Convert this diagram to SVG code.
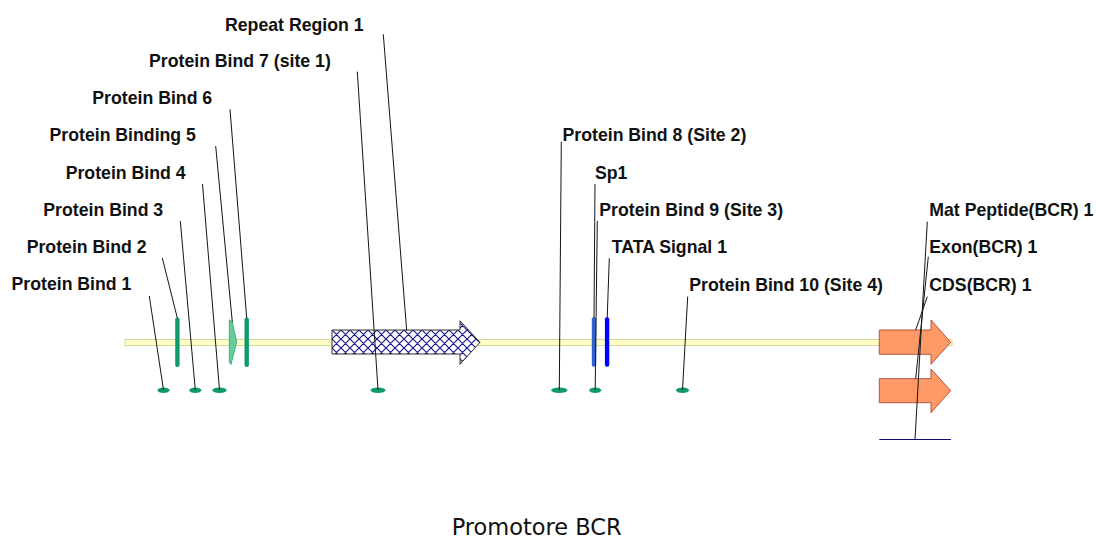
<svg xmlns="http://www.w3.org/2000/svg" width="1096" height="539" viewBox="0 0 1096 539">
  <style>
    .lbl { font-family: "Liberation Sans", Arial, sans-serif; font-weight: bold; font-size: 17.7px; fill: #111; }
    .title { font-family: "DejaVu Sans", Verdana, sans-serif; font-size: 23px; fill: #111; }
    .conn { stroke: #151515; stroke-width: 1; fill: none; }
    .site { fill: #0f9a6a; }
    .ptr { fill: #ff9966; stroke: #b5553f; stroke-width: 1; }
  </style>
  <defs>
    <pattern id="hatch" patternUnits="userSpaceOnUse" x="332" y="330" width="9" height="9">
      <rect width="9" height="9" fill="#ffffff"/>
      <path d="M0,0 L9,9 M9,0 L0,9 M-1,8 L1,10 M8,-1 L10,1 M-1,1 L1,-1 M8,10 L10,8" stroke="#1a1a8c" stroke-width="1.2"/>
    </pattern>
  </defs>
  <rect width="1096" height="539" fill="#ffffff"/>

  <!-- sequence backbone -->
  <g id="backbone">
    <rect x="125" y="339.5" width="827" height="6" fill="#ffffc8" stroke="#d4d49c" stroke-width="1"/>
  </g>

  <!-- features -->
  <g id="protein-bind-1"><ellipse class="site" cx="163.5" cy="390.3" rx="6" ry="2.8"/></g>
  <g id="protein-bind-2"><rect class="site" x="175.2" y="317.5" width="4.4" height="49.5" rx="2"/></g>
  <g id="protein-bind-3"><ellipse class="site" cx="195.3" cy="390.3" rx="6" ry="2.8"/></g>
  <g id="protein-bind-4"><ellipse class="site" cx="219.5" cy="390.3" rx="7.2" ry="2.8"/></g>
  <g id="protein-binding-5"><polygon points="229.3,320 232.3,322 236.7,342 231,364.5 229.3,362" fill="#66cc99" stroke="#2e9e70" stroke-width="0.8"/></g>
  <g id="protein-bind-6"><rect class="site" x="244.5" y="317.5" width="4.4" height="49.5" rx="2"/></g>
  <g id="protein-bind-7"><ellipse class="site" cx="378" cy="390.3" rx="7.5" ry="2.8"/></g>
  <g id="repeat-region-1">
    <polygon points="332,330 460,330 460,320.7 480,342.3 460,364.3 460,354 332,354" fill="url(#hatch)" stroke="#333333" stroke-width="1"/>
  </g>
  <g id="protein-bind-8"><ellipse class="site" cx="559.3" cy="390.3" rx="8.2" ry="2.8"/></g>
  <g id="sp1"><rect x="591.8" y="317.3" width="4.4" height="49.5" rx="2" fill="#3262cf"/></g>
  <g id="protein-bind-9"><ellipse class="site" cx="595.2" cy="390.3" rx="6" ry="2.8"/></g>
  <g id="tata-signal-1"><rect x="604.9" y="317.3" width="4.4" height="49.5" rx="2" fill="#0000ff"/></g>
  <g id="protein-bind-10"><ellipse class="site" cx="682.5" cy="390.3" rx="6.5" ry="2.8"/></g>
  <g id="mat-peptide-bcr-1"><line x1="879.3" y1="439.5" x2="951" y2="439.5" stroke="#10107a" stroke-width="1"/></g>
  <g id="exon-bcr-1"><polygon class="ptr" points="879.3,378.7 931,378.7 931,369 950.7,390.7 931,412.7 931,402.7 879.3,402.7"/></g>
  <g id="cds-bcr-1"><polygon class="ptr" points="879.3,330 931,330 931,320 950.7,342.3 931,364.3 931,354.3 879.3,354.3"/></g>

  <!-- leader lines from labels to features -->
  <g id="connectors">
    <line class="conn" x1="149.3" y1="296" x2="163.5" y2="390"/>
    <line class="conn" x1="162.3" y1="258" x2="177.3" y2="318"/>
    <line class="conn" x1="180.3" y1="221" x2="195.3" y2="390"/>
    <line class="conn" x1="202.5" y1="184" x2="219.5" y2="390"/>
    <line class="conn" x1="215.7" y1="146" x2="232.3" y2="322"/>
    <line class="conn" x1="230" y1="109.3" x2="246.7" y2="318"/>
    <line class="conn" x1="357.3" y1="71.7" x2="378" y2="390"/>
    <line class="conn" x1="383.3" y1="34.3" x2="406.7" y2="330.5"/>
    <line class="conn" x1="561.3" y1="141.7" x2="559.3" y2="390"/>
    <line class="conn" x1="595" y1="184" x2="594" y2="318"/>
    <line class="conn" x1="597.3" y1="221" x2="595.2" y2="390"/>
    <line class="conn" x1="609.3" y1="258.3" x2="607.2" y2="318"/>
    <line class="conn" x1="687.7" y1="296.5" x2="682.5" y2="390"/>
    <line class="conn" x1="927.3" y1="221.7" x2="915" y2="439.5"/>
    <line class="conn" x1="928.3" y1="256.7" x2="915.7" y2="378.7"/>
    <line class="conn" x1="927.3" y1="296.7" x2="915.7" y2="330"/>
  </g>

  <!-- labels -->
  <g id="labels">
    <text class="lbl" x="225" y="30.5">Repeat Region 1</text>
    <text class="lbl" x="149" y="67">Protein Bind 7 (site 1)</text>
    <text class="lbl" x="92.3" y="104">Protein Bind 6</text>
    <text class="lbl" x="49.5" y="141">Protein Binding 5</text>
    <text class="lbl" x="65.7" y="179">Protein Bind 4</text>
    <text class="lbl" x="43.3" y="216">Protein Bind 3</text>
    <text class="lbl" x="26.7" y="253">Protein Bind 2</text>
    <text class="lbl" x="11.5" y="290">Protein Bind 1</text>
    <text class="lbl" x="562.5" y="140.5">Protein Bind 8 (Site 2)</text>
    <text class="lbl" x="595" y="178.5">Sp1</text>
    <text class="lbl" x="599.3" y="216">Protein Bind 9 (Site 3)</text>
    <text class="lbl" x="611.7" y="253.3">TATA Signal 1</text>
    <text class="lbl" x="689.3" y="290.5">Protein Bind 10 (Site 4)</text>
    <text class="lbl" x="929.3" y="216">Mat Peptide(BCR) 1</text>
    <text class="lbl" x="929.3" y="253.3">Exon(BCR) 1</text>
    <text class="lbl" x="929.3" y="290.5">CDS(BCR) 1</text>
  </g>

  <text class="title" x="451.7" y="535" textLength="170" lengthAdjust="spacingAndGlyphs">Promotore BCR</text>
</svg>
